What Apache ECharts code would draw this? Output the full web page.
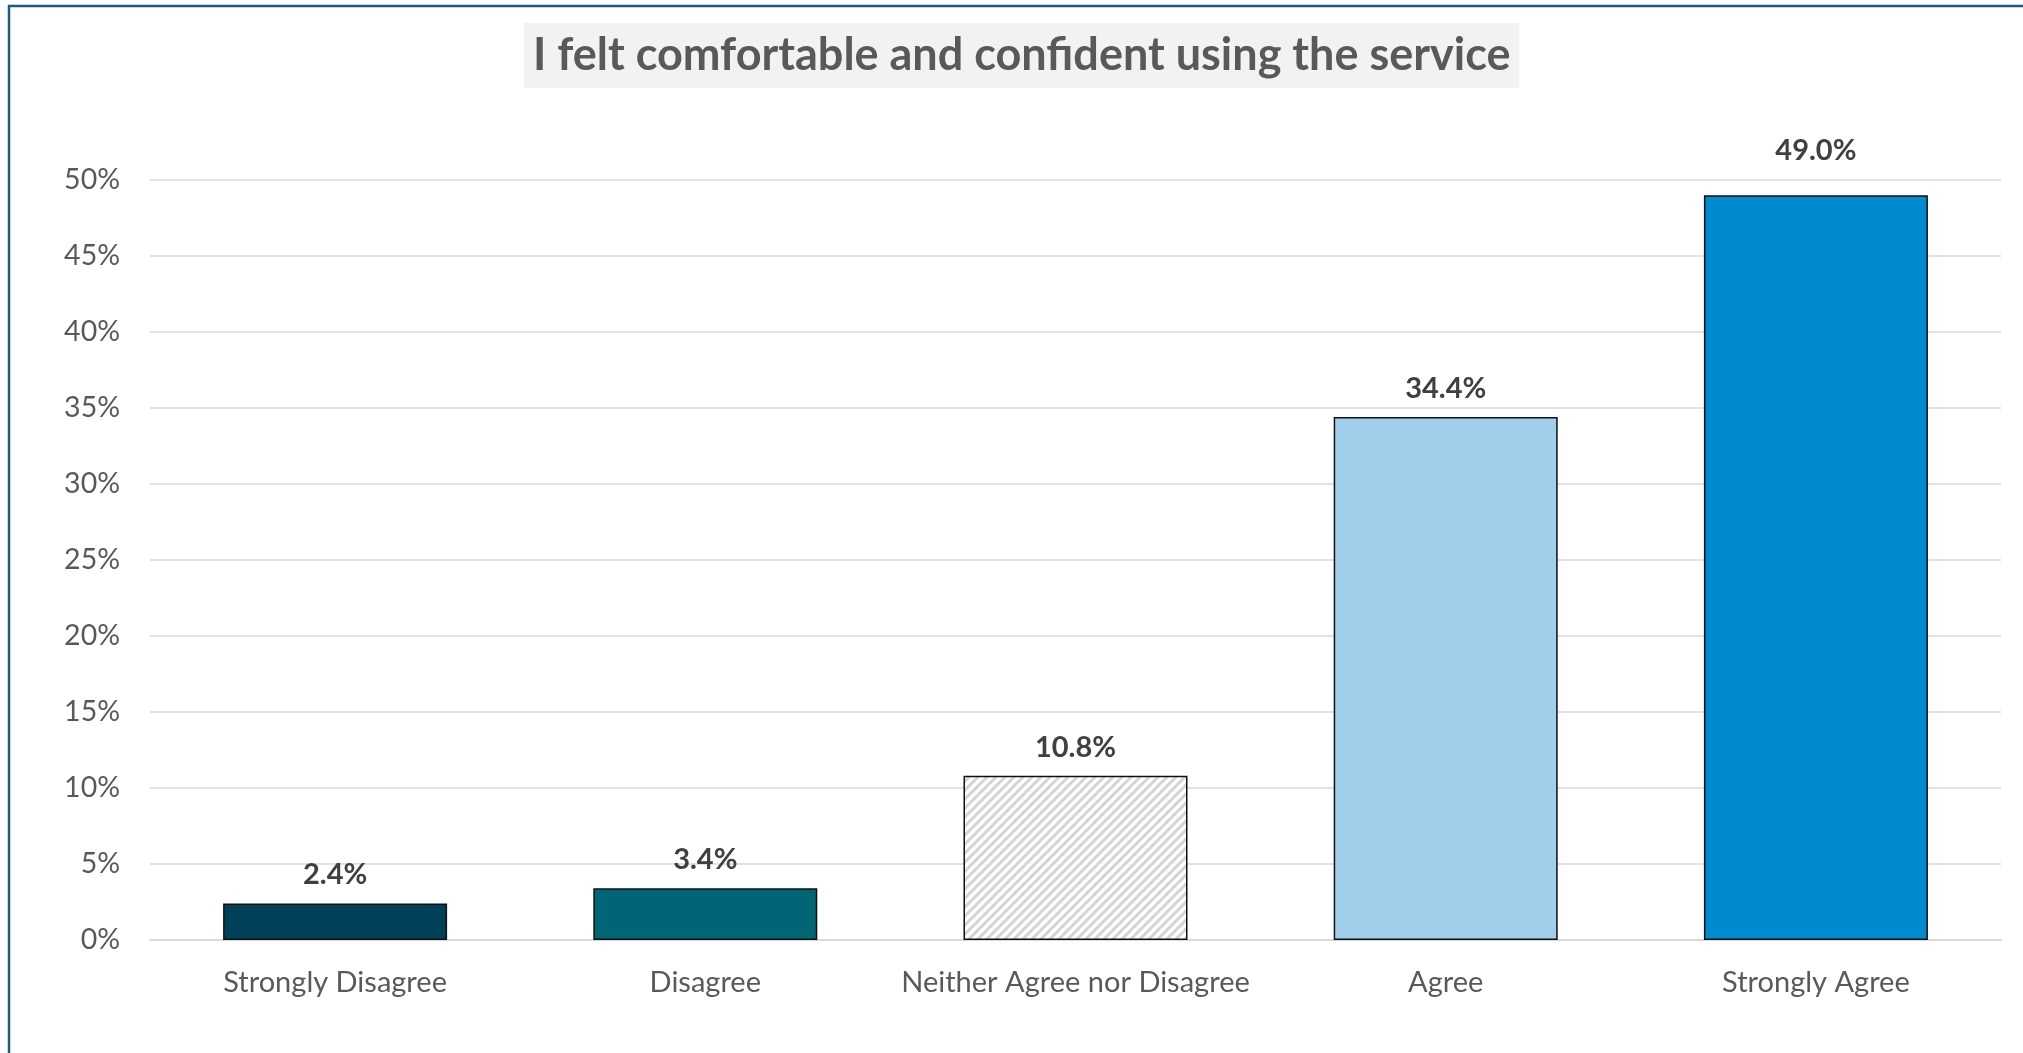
<!DOCTYPE html>
<html>
<head>
<meta charset="utf-8">
<script src="https://cdn.jsdelivr.net/npm/echarts@6/dist/echarts.min.js"></script>
<style>
html,body{margin:0;padding:0;background:#fff;}
#chart{width:2023px;height:1053px;}
</style>
</head>
<body>
<div id="chart"></div>
<script>
const titleText = 'I felt comfortable and confident using the service';
const categories = ['Strongly Disagree', 'Disagree', 'Neither Agree nor Disagree', 'Agree', 'Strongly Agree'];
const values = [2.4, 3.4, 10.8, 34.4, 49.0];
const barColors = ['#004059', '#006675', 'hatch', '#A1CFEB', '#008BCF'];
const yTicks = [0, 5, 10, 15, 20, 25, 30, 35, 40, 45, 50];

function makeHatch() {
  const c = document.createElement('canvas');
  c.width = 9; c.height = 9;
  const ctx = c.getContext('2d');
  ctx.fillStyle = '#ffffff';
  ctx.fillRect(0, 0, 9, 9);
  ctx.strokeStyle = '#D4D4D4';
  ctx.lineWidth = 3;
  ctx.beginPath();
  for (let k = -1; k <= 1; k++) {
    ctx.moveTo(-2 + k * 9, 11);
    ctx.lineTo(11 + k * 9, -2);
  }
  ctx.stroke();
  return c;
}
const hatch = makeHatch();

const font = 'Lato';
const chart = echarts.init(document.getElementById('chart'), null, {renderer: 'canvas'});
chart.setOption({
  animation: false,
  backgroundColor: '#ffffff',
  title: {
    text: titleText,
    left: 524,
    top: 23,
    padding: [10, 9, 10, 9],
    backgroundColor: '#F2F2F2',
    textStyle: {fontFamily: font, fontWeight: 'bold', fontSize: 45, lineHeight: 45, color: '#595959'}
  },
  graphic: [{
    type: 'rect',
    shape: {x: 9, y: 6, width: 2200, height: 1200},
    style: {fill: 'none', stroke: '#1B5E7B', lineWidth: 2.5},
    silent: true,
    z: 100
  }],
  grid: {left: 150, right: 22, top: 180, bottom: 113, containLabel: false},
  xAxis: {
    type: 'category',
    data: categories,
    axisTick: {show: false},
    axisLine: {show: true, lineStyle: {color: '#D9D9D9', width: 2}},
    axisLabel: {fontFamily: font, fontSize: 29, color: '#595959', margin: 28, interval: 0}
  },
  yAxis: {
    type: 'value',
    min: 0,
    max: 50,
    interval: 5,
    axisLine: {show: false},
    axisTick: {show: false},
    splitLine: {lineStyle: {color: '#D9D9D9', width: 1.5}},
    axisLabel: {
      fontFamily: font, fontSize: 28.5, color: '#595959', margin: 30,
      formatter: function (v) { return yTicks.indexOf(v) >= 0 ? v + '%' : ''; }
    }
  },
  series: [{
    type: 'bar',
    barWidth: 224,
    data: values.map(function (v, i) {
      const item = {
        value: v,
        itemStyle: {
          color: barColors[i] === 'hatch' ? {image: hatch, repeat: 'repeat'} : barColors[i],
          borderColor: '#111111',
          borderWidth: 1.5
        }
      };
      if (i === values.length - 1) item.label = {distance: 30};
      return item;
    }),
    label: {
      show: true,
      position: 'top',
      distance: 14,
      fontFamily: font,
      fontWeight: 'bold',
      fontSize: 29,
      color: '#404040',
      formatter: function (p) { return p.value.toFixed(1) + '%'; }
    }
  }]
});
</script>
</body>
</html>
